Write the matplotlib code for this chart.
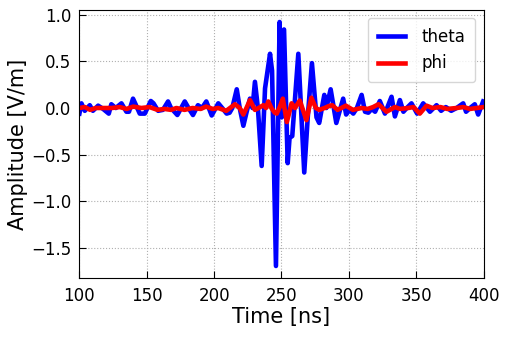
import numpy as np
import matplotlib
matplotlib.use("Agg")
import matplotlib.pyplot as plt

# values (time in ns, amplitude in V/m)
theta_t = [100, 101.5, 104, 107.7, 110, 113.9, 117.6, 121.8, 123.7, 127, 131.2, 134.9,
           136.8, 139.8, 142, 144.8, 148.5, 153, 155, 158.4, 162, 165.8, 168, 172.7,
           178.2, 181, 184.3, 188, 191, 194.2, 198.2, 203.1, 206, 209.3, 211.5, 213.5,
           216.8, 219, 221.7, 224, 226.6, 228.5, 230.3, 232.5, 235.3, 237.8, 241.5, 243,
           245.9, 248.6, 250.2, 251.9, 254.6, 256, 258, 262.5, 266.9, 269.5, 272.6, 276,
           278, 281.8, 283.3, 286.5, 290.7, 295.8, 298, 300.5, 303.3, 306, 309.5, 312,
           314.5, 317, 319.5, 323, 326.8, 331.7, 334.2, 337.9, 340.5, 343, 346.5, 350.7,
           355.2, 360.2, 365.1, 368.5, 372, 376, 380, 384.9, 387, 390, 393.5, 396, 399.7]
theta_v = [-0.06, 0.05, -0.03, 0.03, -0.03, 0.025, -0.01, -0.06, 0.04, 0.0, 0.05, -0.04,
           -0.04, 0.10, 0.03, -0.06, -0.06, 0.075, 0.05, -0.03, -0.02, 0.07, 0.0, -0.075,
           0.07, 0.0, -0.075, 0.03, 0.0, 0.07, -0.08, 0.05, 0.0, -0.06, -0.05, 0.0,
           0.20, 0.0, -0.19, -0.05, 0.10, 0.0, 0.28, 0.0, -0.62, 0.21, 0.58, 0.40,
           -1.69, 0.92, -0.10, 0.84, -0.59, -0.32, -0.30, 0.58, -0.69, -0.10, 0.48, -0.10,
           -0.16, 0.14, 0.0, 0.20, -0.16, 0.10, -0.07, -0.02, -0.06, 0.0, 0.14, -0.04,
           -0.05, -0.01, -0.04, 0.075, -0.06, 0.12, -0.09, 0.085, -0.04, 0.0, 0.05, -0.06,
           0.05, -0.04, 0.03, -0.03, 0.01, -0.03, 0.0, 0.05, -0.04, 0.0, 0.04, -0.07, 0.07]

phi_t = [100, 104, 108, 112, 118, 124, 130, 135, 140, 146, 152, 158, 163, 168, 172, 178,
         184, 190, 194, 199, 203, 209, 215.5, 219, 221.7, 224, 226.6, 230.3, 233, 236.5,
         238.5, 240.2, 242.5, 245, 246.5, 249, 251, 254, 257.5, 260, 263.6, 268.5, 272.2,
         275.5, 278, 282, 285, 287.6, 291.7, 297.8, 303, 309.5, 314, 318, 322, 328, 334.2,
         338, 344, 348, 352.7, 357.7, 362, 368, 373, 380, 385, 390, 395, 400]
phi_v = [0.0, 0.01, -0.02, 0.0, 0.0, 0.0, 0.01, -0.01, 0.015, 0.0, 0.01, -0.02, -0.01,
         -0.02, 0.0, -0.02, 0.0, -0.01, 0.015, -0.01, 0.0, -0.03, 0.04, 0.0, -0.07, 0.0,
         0.085, -0.02, 0.0, 0.03, 0.0, 0.07, 0.0, -0.05, -0.06, 0.02, 0.10, -0.15, 0.05,
         0.0, 0.08, -0.13, 0.11, 0.0, -0.02, 0.0, 0.02, 0.03, -0.02, 0.025, -0.02, 0.0,
         -0.01, 0.01, 0.04, -0.04, 0.01, -0.01, 0.0, 0.01, -0.06, 0.025, 0.0, 0.01, -0.01,
         0.0, 0.01, -0.01, 0.0, 0.01]

fig = plt.figure(figsize=(5.09, 3.38), dpi=100)
ax = fig.add_axes([0.156, 0.177, 0.794, 0.794])

ax.plot(theta_t, theta_v, color='blue', lw=3.3, label='theta')
ax.plot(phi_t, phi_v, color='red', lw=3.3, label='phi')

ax.set_xlim(100, 400)
ax.set_xticks([100, 150, 200, 250, 300, 350, 400])
ax.set_yticks([-1.5, -1.0, -0.5, 0.0, 0.5, 1.0])
ax.set_xlabel("Time [ns]", fontsize=15, labelpad=2)
ax.set_ylabel("Amplitude [V/m]", fontsize=15, labelpad=2)
ax.tick_params(direction='in', labelsize=12, length=5, pad=6)
ax.grid(True, linestyle=':', color='#b0b0b0', lw=0.8)
ax.legend(loc='upper right', fontsize=12, handlelength=1.6, handletextpad=1.0,
          borderpad=0.6)

plt.savefig("out.png", dpi=100)
